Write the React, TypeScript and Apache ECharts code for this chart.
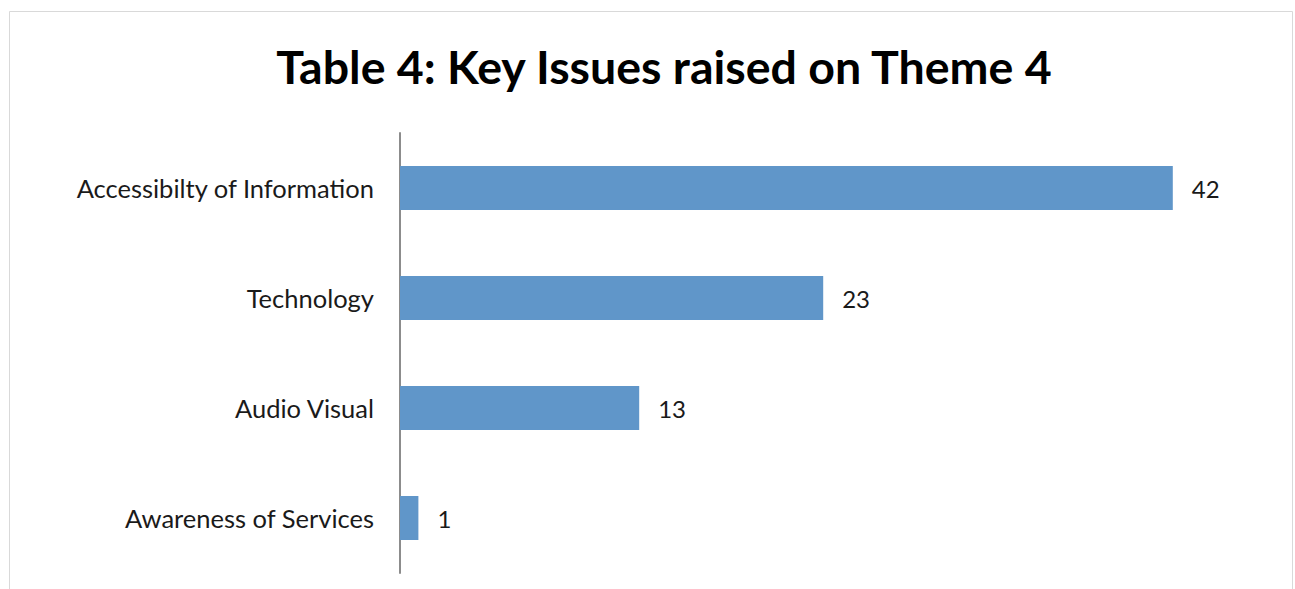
import React, { useEffect, useRef } from "react";
import * as echarts from "echarts";

const categories = [
  "Accessibilty of Information",
  "Technology",
  "Audio Visual",
  "Awareness of Services",
];
const values = [42, 23, 13, 1];
const titleText = "Table 4: Key Issues raised on Theme 4";

export default function App() {
  const ref = useRef<HTMLDivElement>(null);
  useEffect(() => {
    document.body.style.margin = "0";
    const chart = echarts.init(ref.current!, null, { renderer: "svg" });
    chart.setOption({
      animation: false,
      backgroundColor: "#ffffff",
      title: {
        text: titleText,
        left: 659,
        top: 37,
        textAlign: "center",
        textStyle: {
          fontFamily: "Lato",
          fontWeight: "bold",
          fontSize: 46.5,
          color: "#000000",
        },
      },
      graphic: [
        {
          type: "rect",
          shape: { x: 9.5, y: 11.5, width: 1283, height: 620 },
          style: { fill: "none", stroke: "#d9d9d9", lineWidth: 1 },
          silent: true,
        },
      ],
      grid: { left: 400, top: 133, width: 828, height: 440, containLabel: false },
      xAxis: {
        type: "value",
        min: 0,
        max: 45,
        show: false,
      },
      yAxis: {
        type: "category",
        data: categories,
        inverse: true,
        axisLine: { show: true, lineStyle: { color: "#8c8c8c", width: 2 } },
        axisTick: { show: false },
        axisLabel: {
          margin: 26,
          fontFamily: "Lato",
          fontSize: 25.5,
          color: "#1a1a1a",
        },
      },
      series: [
        {
          type: "bar",
          data: values,
          barWidth: 44,
          itemStyle: { color: "#6096c9" },
          label: {
            show: true,
            position: "right",
            distance: 19,
            fontFamily: "Lato",
            fontSize: 24,
            color: "#1a1a1a",
          },
        },
      ],
    });
    return () => chart.dispose();
  }, []);
  return (
    <div
      ref={ref}
      style={{ position: "absolute", left: 0, top: 0, width: 1295, height: 589 }}
    />
  );
}
